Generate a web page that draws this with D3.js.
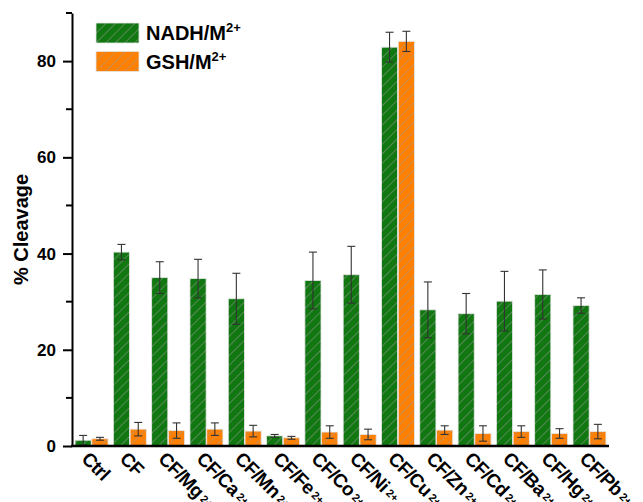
<!DOCTYPE html>
<html>
<head>
<meta charset="utf-8">
<script src="https://cdn.jsdelivr.net/npm/d3@7"></script>
<style>
  body { margin: 0; background: #fff; }
  svg { font-family: "Liberation Sans", Arial, sans-serif; font-weight: bold; }
</style>
</head>
<body>
<div id="chart"></div>
<script>
var categories = ["Ctrl", "CF", "CF/Mg", "CF/Ca", "CF/Mn", "CF/Fe", "CF/Co", "CF/Ni", "CF/Cu", "CF/Zn", "CF/Cd", "CF/Ba", "CF/Hg", "CF/Pb"];
var catSup = ["", "", "2+", "2+", "2+", "2+", "2+", "2+", "2+", "2+", "2+", "2+", "2+", "2+"];
var nadh    = [1.2, 40.3, 35.0, 34.8, 30.6, 2.1, 34.4, 35.6, 82.9, 28.3, 27.5, 30.1, 31.5, 29.2];
var nadhErr = [1.0, 1.6, 3.3, 4.0, 5.3, 0.3, 5.9, 5.9, 3.1, 5.8, 4.2, 6.2, 5.1, 1.6];
var gsh     = [1.5, 3.5, 3.2, 3.5, 3.1, 1.7, 2.9, 2.4, 84.1, 3.3, 2.6, 3.0, 2.6, 3.0];
var gshErr  = [0.3, 1.4, 1.6, 1.3, 1.2, 0.3, 1.3, 1.1, 2.1, 0.9, 1.6, 1.2, 1.0, 1.5];
var seriesNames = ["NADH/M", "GSH/M"];
var seriesColors = ["#117711", "#ff7f00"];
var yTickValues = [0, 20, 40, 60, 80];
var yMinorValues = [10, 30, 50, 70, 90];

var W = 643, H = 502;
var margin = {top: 13, right: 34, bottom: 56, left: 72};

var svg = d3.select("#chart").append("svg")
    .attr("width", W)
    .attr("height", H);

// hatch patterns
var defs = svg.append("defs");
seriesColors.forEach(function(c, i) {
    var p = defs.append("pattern")
        .attr("id", "hatch" + i)
        .attr("patternUnits", "userSpaceOnUse")
        .attr("width", 6.8)
        .attr("height", 6.8)
        .attr("patternTransform", "rotate(45)");
    p.append("rect").attr("width", 6.8).attr("height", 6.8).attr("fill", c);
    p.append("line")
        .attr("x1", 0).attr("y1", 0).attr("x2", 0).attr("y2", 6.8)
        .attr("stroke", "#9a9a9a")
        .attr("stroke-width", 1);
});

var x = d3.scaleBand()
    .domain(categories)
    .range([margin.left, W - margin.right])
    .paddingInner(0.14)
    .paddingOuter(0.08);

var xs = d3.scaleBand()
    .domain([0, 1])
    .range([0, x.bandwidth()])
    .paddingInner(0.04);

var y = d3.scaleLinear()
    .domain([0, 90])
    .range([H - margin.bottom, margin.top]);

var rows = categories.map(function(c, i) {
    return {cat: c, vals: [nadh[i], gsh[i]], errs: [nadhErr[i], gshErr[i]]};
});

var groups = svg.append("g").selectAll("g")
    .data(rows)
    .enter().append("g")
    .attr("transform", d => "translate(" + x(d.cat) + ",0)");

[0, 1].forEach(function(s) {
    groups.append("rect")
        .attr("x", xs(s))
        .attr("y", d => y(d.vals[s]))
        .attr("width", xs.bandwidth())
        .attr("height", d => y(0) - y(d.vals[s]))
        .attr("fill", "url(#hatch" + s + ")")
        .attr("stroke", "#e6e6e6")
        .attr("stroke-width", 0.8);

    var eb = groups.append("g")
        .attr("stroke", "#333")
        .attr("stroke-width", 1.1);
    var cx = xs(s) + xs.bandwidth() / 2;
    eb.append("line")
        .attr("x1", cx).attr("x2", cx)
        .attr("y1", d => y(d.vals[s] + d.errs[s]))
        .attr("y2", d => y(d.vals[s] - d.errs[s]));
    eb.append("line")
        .attr("x1", cx - 4).attr("x2", cx + 4)
        .attr("y1", d => y(d.vals[s] + d.errs[s]))
        .attr("y2", d => y(d.vals[s] + d.errs[s]));
    eb.append("line")
        .attr("x1", cx - 4).attr("x2", cx + 4)
        .attr("y1", d => y(d.vals[s] - d.errs[s]))
        .attr("y2", d => y(d.vals[s] - d.errs[s]));
});

// y axis
var yAxis = d3.axisLeft(y)
    .tickValues(yTickValues)
    .tickSizeInner(9)
    .tickSizeOuter(0)
    .tickPadding(7);

var gy = svg.append("g")
    .attr("transform", "translate(" + margin.left + ",0)")
    .call(yAxis);
gy.select(".domain").attr("stroke-width", 2);
gy.selectAll(".tick line").attr("stroke-width", 2);
gy.selectAll(".tick text")
    .attr("font-size", 17)
    .attr("font-weight", "bold")
    .attr("font-family", "Liberation Sans, Arial, sans-serif")
    .attr("fill", "#000");

gy.selectAll(".minor")
    .data(yMinorValues)
    .enter().append("line")
    .attr("class", "minor")
    .attr("x1", -6).attr("x2", 0)
    .attr("y1", d => y(d)).attr("y2", d => y(d))
    .attr("stroke", "#000")
    .attr("stroke-width", 2);

// x axis line
svg.append("line")
    .attr("x1", margin.left - 1)
    .attr("x2", W - margin.right)
    .attr("y1", y(0)).attr("y2", y(0))
    .attr("stroke", "#000")
    .attr("stroke-width", 2.5);

// x labels
var xl = svg.append("g").selectAll("text")
    .data(categories)
    .enter().append("text")
    .attr("transform", d => "translate(" + (x(d) + x.bandwidth() / 2 - 11) + "," + (y(0) + 14) + ") rotate(45)")
    .attr("font-size", 19)
    .attr("letter-spacing", -0.6)
    .attr("fill", "#000");
xl.append("tspan").text(d => d);
xl.append("tspan")
    .attr("font-size", 11)
    .attr("letter-spacing", 0)
    .attr("dx", 3)
    .attr("dy", -2)
    .text((d, i) => catSup[i]);

// y label
svg.append("text")
    .attr("transform", "translate(28," + y(45) + ") rotate(-90)")
    .attr("text-anchor", "middle")
    .attr("font-size", 20)
    .attr("fill", "#000")
    .text("% Cleavage");

// legend
var legend = svg.append("g").attr("transform", "translate(96,23)");
seriesNames.forEach(function(name, i) {
    var lg = legend.append("g").attr("transform", "translate(0," + (i * 28.5) + ")");
    lg.append("rect")
        .attr("width", 43)
        .attr("height", 20)
        .attr("fill", "url(#hatch" + i + ")")
        .attr("stroke", "#e6e6e6")
        .attr("stroke-width", 0.8);
    var t = lg.append("text")
        .attr("x", 50)
        .attr("y", 17)
        .attr("font-size", 20)
        .attr("fill", "#000");
    t.append("tspan").text(name);
    t.append("tspan").attr("font-size", 13).attr("dy", -8).text("2+");
});
</script>
</body>
</html>
